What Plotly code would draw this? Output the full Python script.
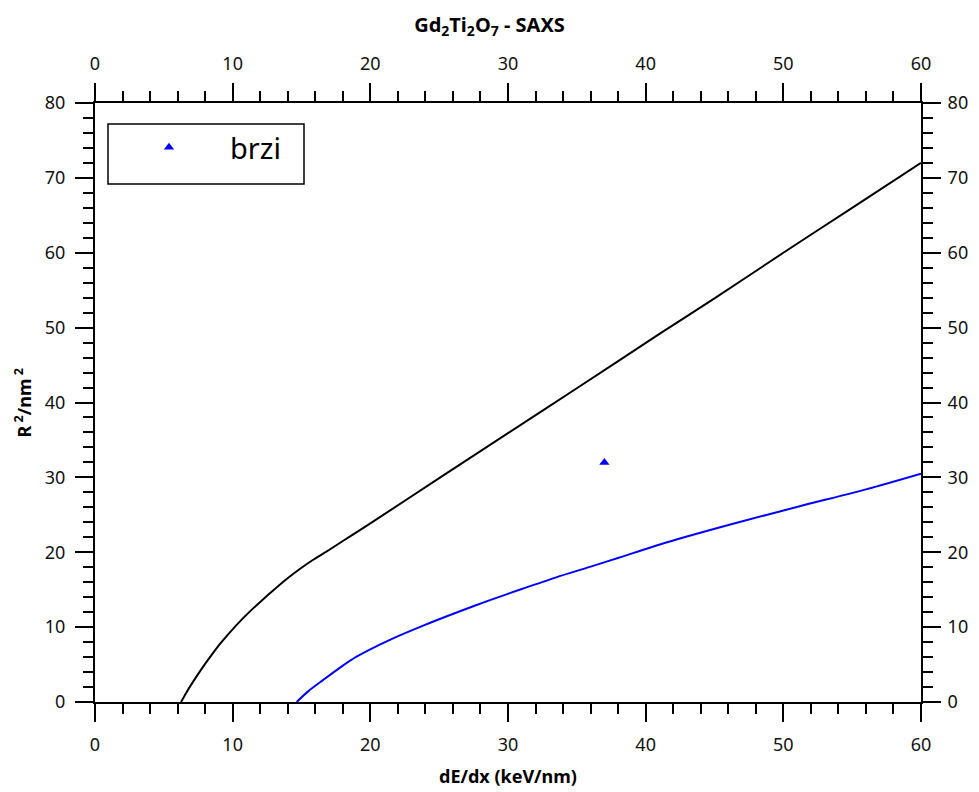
import plotly.graph_objects as go

# Black curve
black_x = [6.25, 6.6, 7.0, 7.87, 8.5, 9.08, 10.29, 11.2, 12.2, 13.0, 13.9, 14.9, 15.85, 17.0, 18.0, 19.24, 20.0, 25.0, 30.0, 35.0, 41.03, 45.0, 50.0, 55.0, 60.0]
black_y = [0.0, 1.15, 2.35, 4.75, 6.35, 7.75, 10.3, 12.0, 13.7, 15.0, 16.4, 17.8, 19.0, 20.3, 21.5, 22.96, 23.85, 29.9, 35.9, 41.9, 49.2, 53.9, 60.0, 66.0, 72.0]

# Blue curve
blue_x = [14.65, 15.5, 16.58, 17.8, 19.0, 21.42, 23.84, 26.27, 28.69, 31.1, 33.5, 35.95, 38.1, 41.5, 46.35, 51.2, 56.0, 60.0]
blue_y = [0.0, 1.45, 2.95, 4.6, 6.05, 8.3, 10.2, 11.95, 13.6, 15.15, 16.65, 18.05, 19.3, 21.3, 23.8, 26.15, 28.4, 30.5]

# Measured point
pt_x = [37.0]
pt_y = [32.0]
pt_name = "brzi"

x_range = [0, 60]
y_range = [0, 80]

FONT = "Noto Sans"

fig = go.Figure()
fig.add_trace(go.Scatter(x=black_x, y=black_y, mode="lines",
                         line=dict(color="black", width=2, shape="spline", smoothing=0.5),
                         showlegend=False, hoverinfo="skip"))
fig.add_trace(go.Scatter(x=blue_x, y=blue_y, mode="lines",
                         line=dict(color="#0000ff", width=2, shape="spline", smoothing=0.8),
                         showlegend=False, hoverinfo="skip"))
fig.add_trace(go.Scatter(x=pt_x, y=pt_y, mode="markers", name=pt_name,
                         marker=dict(symbol="triangle-up", size=9, color="#0000ff")))
# invisible trace to carry the top/right axes
fig.add_trace(go.Scatter(x=pt_x, y=pt_y, mode="markers", xaxis="x2", yaxis="y2",
                         marker=dict(opacity=0), showlegend=False, hoverinfo="skip"))

tickfont = dict(family=FONT, size=18, color="#111")
common = dict(showline=True, linecolor="black", linewidth=2, ticks="outside",
              tickcolor="black", tickwidth=1.5, ticklen=18, showgrid=False,
              zeroline=False, tickfont=tickfont)
minor = dict(dtick=2, ticklen=10, ticks="outside", tickcolor="black", tickwidth=1.5)

fig.update_layout(
    width=979, height=792,
    margin=dict(l=95, r=58, t=103, b=90),
    plot_bgcolor="white", paper_bgcolor="white",
    title=dict(text="<b>Gd<sub>2</sub>Ti<sub>2</sub>O<sub>7</sub> - SAXS</b>",
               x=0.5, xanchor="center", y=1 - 25 / 792, yanchor="middle", yref="container",
               font=dict(family=FONT, size=20, color="black")),
    xaxis=dict(range=x_range, dtick=10, tick0=0, minor=minor, ticklabelstandoff=7, **common),
    xaxis2=dict(range=x_range, dtick=10, tick0=0, overlaying="x", side="top", anchor="y",
                minor=minor, ticklabelstandoff=6, **common),
    yaxis=dict(range=y_range, dtick=10, tick0=0, minor=minor, ticklabelstandoff=6, **common),
    yaxis2=dict(range=y_range, dtick=10, tick0=0, overlaying="y", side="right", anchor="x",
                minor=minor, ticklabelstandoff=3, **common),
    legend=dict(x=(108 - 95) / 826, y=1 - (122 - 103) / 599, xanchor="left", yanchor="top",
                bgcolor="rgba(0,0,0,0)", borderwidth=0, itemwidth=112,
                font=dict(family=FONT, size=29, color="black")),
    shapes=[dict(type="rect", xref="paper", yref="paper",
                 x0=(108 - 95) / 826, x1=(304 - 95) / 826,
                 y0=1 - (184 - 103) / 599, y1=1 - (124 - 103) / 599,
                 line=dict(color="black", width=1.5), fillcolor="rgba(0,0,0,0)")],
    annotations=[
        dict(text="<b>dE/dx (keV/nm)</b>", xref="paper", yref="paper",
             x=0.5, y=-(776 - 702) / 599, xanchor="center", yanchor="middle",
             showarrow=False, font=dict(family=FONT, size=18, color="black")),
        dict(text="<b>R<sup> 2</sup>/nm<sup> 2</sup></b>", xref="paper", yref="paper",
             x=-(95 - 23) / 826, y=0.5, xanchor="center", yanchor="middle", textangle=-90,
             showarrow=False, font=dict(family=FONT, size=18, color="black")),
    ],
)

fig.write_html("out.html")
